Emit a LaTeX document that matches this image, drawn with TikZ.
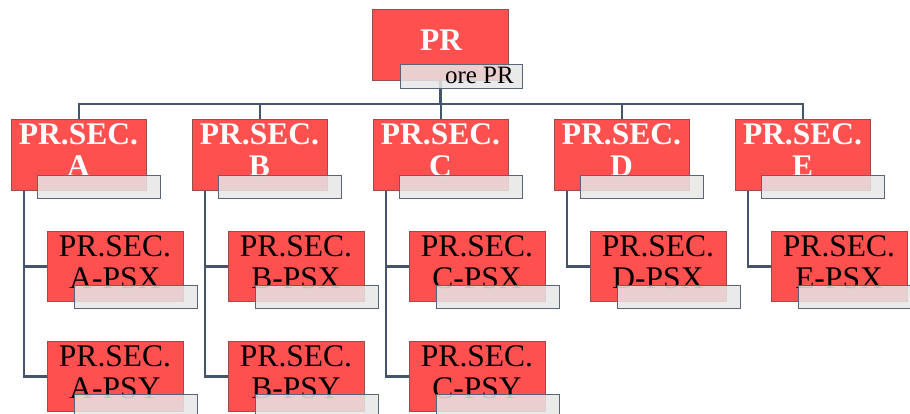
\documentclass[tikz,border=0pt]{standalone}
\usepackage{fontspec}
\setmainfont{Liberation Serif}
\usetikzlibrary{calc}
\definecolor{boxred}{HTML}{FF5050}
\definecolor{boxline}{HTML}{9A4B4B}
\definecolor{connc}{HTML}{44546A}
\definecolor{lblfill}{HTML}{E6E6E6}
\definecolor{lblline}{HTML}{56657A}
\begin{document}
\begin{tikzpicture}[x=1pt,y=-1pt,
  unitbox/.style={draw=boxline, fill=boxred, line width=0.9pt, minimum width=135pt, minimum height=71pt, inner sep=0pt, anchor=north west},
  conn/.style={draw=connc, line width=2.6pt, line join=miter},
  wtxt/.style={anchor=north, inner sep=0pt, align=center, text=white, font=\fontsize{31.5}{32}\selectfont\bfseries},
  btxt/.style={anchor=north, inner sep=0pt, align=center, text=black, font=\fontsize{31.5}{32}\selectfont},
  lbl/.style={draw=lblline, fill=lblfill, fill opacity=0.85, line width=1.1pt, minimum width=123pt, minimum height=23pt, inner sep=0pt, anchor=north west}
]
\useasboundingbox (0,0) rectangle (910,414);

% boxes
\node[unitbox, minimum width=136pt] (PR) at (372,9) {};
\foreach \L [count=\i from 0] in {A,B,C,D,E}{
  \pgfmathsetmacro\lx{11+181*\i}
  \node[unitbox] (\L) at (\lx,119) {};
  \node[unitbox, minimum width=136pt, minimum height=70pt] (\L-psx) at (\lx+36,231) {};
}
\foreach \L [count=\i from 0] in {A,B,C}{
  \pgfmathsetmacro\lx{11+181*\i}
  \node[unitbox, minimum width=136pt, minimum height=70pt] (\L-psy) at (\lx+36,341) {};
}

% connectors
\coordinate (bus) at (440,104);
\draw[conn] (PR.south) -- (PR.south |- bus);
\draw[conn] (A.north) |- (E.north |- bus) -- (E.north);
\foreach \L in {B,C,D}{
  \draw[conn] (\L.north |- bus) -- (\L.north);
}
\foreach \L in {A,B,C,D,E}{
  \coordinate (\L-trunk) at ($(\L.south west)+(13,0)$);
  \draw[conn] (\L-trunk) |- (\L-psx.west);
}
\foreach \L in {A,B,C}{
  \draw[conn] (\L-trunk) |- (\L-psy.west);
}

% texts
\node[wtxt] (PR-t) at (441,30) {PR};
\foreach \L [count=\i from 0] in {A,B,C,D,E}{
  \pgfmathsetmacro\lx{11+181*\i}
  \node[wtxt] (\L-t) at (\lx+67.5,123) {PR.SEC.\\\L};
  \node[btxt] (\L-psx-t) at (\lx+36+68,235) {PR.SEC.\\\L-PSX};
}
\foreach \L [count=\i from 0] in {A,B,C}{
  \pgfmathsetmacro\lx{11+181*\i}
  \node[btxt] (\L-psy-t) at (\lx+36+68,345) {PR.SEC.\\\L-PSY};
}

% labels
\node[lbl, minimum width=122pt, minimum height=24pt] (PR-lbl) at (400,64) {};
\node[anchor=base east, inner sep=0pt, font=\fontsize{25}{26}\selectfont] (PR-lbl-t) at (514,84) {ore PR};
\foreach \L [count=\i from 0] in {A,B,C,D,E}{
  \pgfmathsetmacro\lx{11+181*\i}
  \node[lbl] (\L-lbl) at (\lx+26,175) {};
  \node[lbl] (\L-psx-lbl) at (\lx+36+27,285) {};
}
\foreach \L [count=\i from 0] in {A,B,C}{
  \pgfmathsetmacro\lx{11+181*\i}
  \node[lbl] (\L-psy-lbl) at (\lx+36+27,394) {};
}
\end{tikzpicture}
\end{document}
